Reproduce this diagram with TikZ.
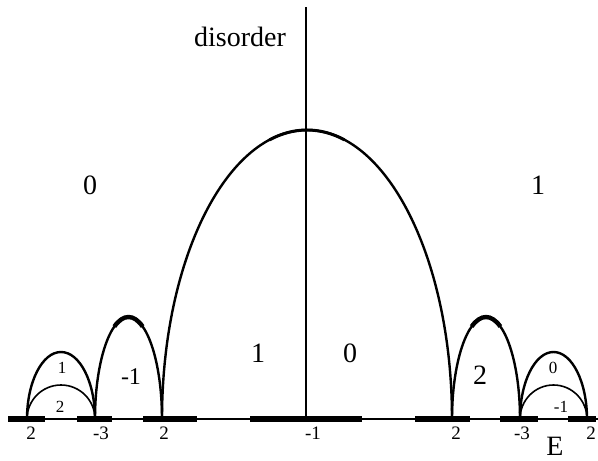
\documentclass[tikz,border=0pt]{standalone}
\usepackage{fontspec}
\setmainfont{Liberation Serif}
\usetikzlibrary{calc}
\tikzset{
  axisline/.style={line width=0.9pt, black},
  band/.style={line width=2.7pt, black},
  arch/.style={line width=1.2pt, black},
  archtop/.style={line width=2.2pt, black},
  inarch/.style={line width=0.8pt, black},
  biglbl/.style={font=\fontsize{14}{16}\selectfont, inner sep=0pt},
  midlbl/.style={font=\fontsize{12}{14}\selectfont, inner sep=0pt},
  smalllbl/.style={font=\fontsize{8.5}{10}\selectfont, inner sep=0pt},
  ticklbl/.style={font=\fontsize{9.5}{11}\selectfont, inner sep=0pt},
}
\begin{document}
\begin{tikzpicture}[x=0.5pt, y=0.5pt]
  \useasboundingbox (0,0) rectangle (598,460);
  % energy axis and spectral bands
  \coordinate (axl) at (8,41);
  \coordinate (axr) at (598,41);
  \draw[axisline] (axl) -- (axr);
  \foreach \a/\b in {8/45, 77/112, 143/197, 250/362, 415/470, 500/538, 568/596}
    \draw[band] (\a,41) -- (\b,41);
  % disorder axis
  \coordinate (vb) at (306,41);
  \coordinate (vt) at (306,453);
  \draw[axisline] (vb) -- (vt);
  % arch feet
  \coordinate (f1) at (27,41);
  \coordinate (f2) at (95,41);
  \coordinate (f3) at (162,41);
  \coordinate (f4) at (452,41);
  \coordinate (f5) at (520,41);
  \coordinate (f6) at (587,41);
  % arch centres
  \coordinate (mL) at (61,41);
  \coordinate (mA) at (128.5,41);
  \coordinate (mC) at (307,41);
  \coordinate (mB) at (486,41);
  \coordinate (mR) at (553.5,41);
  % arches
  \draw[arch] (f1) arc[start angle=180, end angle=0, x radius=34, y radius=67];
  \draw[inarch] (f1) arc[start angle=180, end angle=0, x radius=34, y radius=34];
  \draw[arch] (f2) arc[start angle=180, end angle=0, x radius=33.5, y radius=102];
  \draw[archtop] (mA) ++(65:33.5 and 102) arc[start angle=65, end angle=115, x radius=33.5, y radius=102];
  \draw[arch] (f3) arc[start angle=180, end angle=0, x radius=145, y radius=289];
  \draw[line width=1.5pt] (mC) ++(75:145 and 289) arc[start angle=75, end angle=105, x radius=145, y radius=289];
  \draw[arch] (f4) arc[start angle=180, end angle=0, x radius=34, y radius=102];
  \draw[archtop] (mB) ++(65:34 and 102) arc[start angle=65, end angle=115, x radius=34, y radius=102];
  \draw[arch] (f5) arc[start angle=180, end angle=0, x radius=33.5, y radius=67];
  \draw[inarch] (f5) arc[start angle=180, end angle=0, x radius=33.5, y radius=34];
  % region labels
  \node[biglbl] (dis) at (240,423) {disorder};
  \node[biglbl] (zl) at (90,275) {0};
  \node[biglbl] (or) at (538,275) {1};
  \node[biglbl] (oc) at (258,107) {1};
  \node[biglbl] (zc) at (350,107) {0};
  \node[midlbl] (ma) at (131,83) {-1};
  \node[biglbl] (tb) at (480,85) {2};
  \node[smalllbl] (sl1) at (62,92) {1};
  \node[smalllbl] (sl2) at (60,53) {2};
  \node[smalllbl] (sr1) at (553,92) {0};
  \node[smalllbl] (sr2) at (561,53) {-1};
  % band labels
  \node[ticklbl] (t1) at (31,27) {2};
  \node[ticklbl] (t2) at (101,27) {-3};
  \node[ticklbl] (t3) at (164,27) {2};
  \node[ticklbl] (t4) at (313,27) {-1};
  \node[ticklbl] (t5) at (456,27) {2};
  \node[ticklbl] (t6) at (522,27) {-3};
  \node[ticklbl] (t7) at (591,27) {2};
  \node[biglbl] (en) at (555,14) {E};
\end{tikzpicture}
\end{document}
